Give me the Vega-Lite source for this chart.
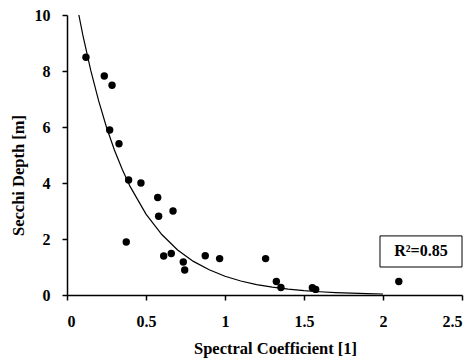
{
  "$schema": "https://vega.github.io/schema/vega-lite/v6.json",
  "width": 395,
  "height": 280,
  "autosize": "none",
  "padding": {"left": 67, "top": 15, "right": 14, "bottom": 65},
  "background": "white",
  "config": {
    "view": {"stroke": null},
    "font": "Liberation Serif",
    "axis": {
      "grid": false,
      "domainColor": "black",
      "domainWidth": 1.5,
      "tickColor": "black",
      "tickWidth": 1.5,
      "tickSize": 5,
      "labelFont": "Liberation Serif",
      "labelFontWeight": "bold",
      "labelFontSize": 16,
      "labelColor": "black",
      "titleFont": "Liberation Serif",
      "titleFontWeight": "bold",
      "titleFontSize": 16.5,
      "titleColor": "black"
    }
  },
  "datasets": {
    "obs": [
      {"k": 0.12, "d": 8.49}, {"k": 0.236, "d": 7.82}, {"k": 0.285, "d": 7.49},
      {"k": 0.27, "d": 5.89}, {"k": 0.329, "d": 5.4}, {"k": 0.39, "d": 4.11},
      {"k": 0.468, "d": 4.0}, {"k": 0.574, "d": 3.48}, {"k": 0.58, "d": 2.81},
      {"k": 0.671, "d": 3.0}, {"k": 0.375, "d": 1.89}, {"k": 0.612, "d": 1.39},
      {"k": 0.66, "d": 1.48}, {"k": 0.736, "d": 1.18}, {"k": 0.745, "d": 0.89},
      {"k": 0.875, "d": 1.4}, {"k": 0.966, "d": 1.3}, {"k": 1.257, "d": 1.3},
      {"k": 1.325, "d": 0.48}, {"k": 1.354, "d": 0.27}, {"k": 1.553, "d": 0.26},
      {"k": 1.574, "d": 0.2}, {"k": 2.1, "d": 0.48}
    ],
    "fit": [
      {"k": 0.075, "d": 10.0}, {"k": 0.1, "d": 9.29}, {"k": 0.15, "d": 8.03},
      {"k": 0.2, "d": 6.94}, {"k": 0.25, "d": 5.99}, {"k": 0.3, "d": 5.18},
      {"k": 0.35, "d": 4.48}, {"k": 0.4, "d": 3.87}, {"k": 0.5, "d": 2.89},
      {"k": 0.6, "d": 2.16}, {"k": 0.7, "d": 1.61}, {"k": 0.8, "d": 1.2},
      {"k": 0.9, "d": 0.9}, {"k": 1.0, "d": 0.67}, {"k": 1.1, "d": 0.5},
      {"k": 1.2, "d": 0.37}, {"k": 1.3, "d": 0.28}, {"k": 1.4, "d": 0.21},
      {"k": 1.5, "d": 0.156}, {"k": 1.6, "d": 0.116}, {"k": 1.7, "d": 0.087},
      {"k": 1.8, "d": 0.065}, {"k": 1.9, "d": 0.048}, {"k": 2.0, "d": 0.036}
    ],
    "note": [
      {"x1": 1.981, "x2": 2.5, "y1": 1.0, "y2": 2.11, "xm": 2.24, "ym": 1.57, "label": "R²=0.85"}
    ]
  },
  "layer": [
    {
      "data": {"name": "fit"},
      "mark": {"type": "line", "color": "black", "strokeWidth": 1.2, "clip": true},
      "encoding": {
        "x": {
          "field": "k", "type": "quantitative",
          "scale": {"domain": [0, 2.5], "nice": false},
          "axis": {"values": [0, 0.5, 1, 1.5, 2, 2.5], "format": "~g", "title": "Spectral Coefficient [1]", "labelPadding": 13, "titlePadding": 11, "titleX": 208}
        },
        "y": {
          "field": "d", "type": "quantitative",
          "scale": {"domain": [0, 10], "nice": false},
          "axis": {"values": [0, 2, 4, 6, 8, 10], "title": "Secchi Depth [m]", "labelPadding": 12, "titlePadding": 8, "titleY": 160}
        }
      }
    },
    {
      "data": {"name": "obs"},
      "mark": {"type": "circle", "color": "black", "opacity": 1, "size": 55},
      "encoding": {
        "x": {"field": "k", "type": "quantitative"},
        "y": {"field": "d", "type": "quantitative"}
      }
    },
    {
      "data": {"name": "note"},
      "mark": {"type": "rect", "fill": "white", "stroke": "black", "strokeWidth": 1},
      "encoding": {
        "x": {"field": "x1", "type": "quantitative"},
        "x2": {"field": "x2"},
        "y": {"field": "y1", "type": "quantitative"},
        "y2": {"field": "y2"}
      }
    },
    {
      "data": {"name": "note"},
      "mark": {"type": "text", "font": "Liberation Serif", "fontWeight": "bold", "fontSize": 16, "color": "black", "align": "center", "baseline": "middle"},
      "encoding": {
        "x": {"field": "xm", "type": "quantitative"},
        "y": {"field": "ym", "type": "quantitative"},
        "text": {"field": "label"}
      }
    }
  ]
}
